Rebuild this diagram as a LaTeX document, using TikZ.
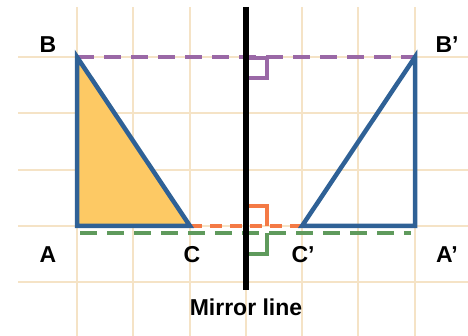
\documentclass[tikz,border=0pt]{standalone}
\usepackage{fontspec}
\setmainfont{Liberation Sans}
\definecolor{gridc}{HTML}{F5E3C6}
\definecolor{triblue}{HTML}{2F6196}
\definecolor{trifill}{HTML}{FDC964}
\definecolor{purp}{HTML}{9A68A6}
\definecolor{oran}{HTML}{F47A45}
\definecolor{gree}{HTML}{5F9A5C}
\begin{document}
\begin{tikzpicture}[x=1pt,y=-1pt,
  gridline/.style={draw=gridc,line width=2pt},
  tri/.style={draw=triblue,line width=4.5pt,line join=miter},
  dashline/.style={line width=3.5pt,dash pattern=on 17pt off 10pt},
  marker/.style={line width=3.5pt},
  lbl/.style={font=\bfseries\fontsize{23}{25}\selectfont,inner sep=0pt}]
\useasboundingbox (0,0) rectangle (468,336);
% grid
\foreach \x in {77,133,190,302,358,415} \draw[gridline] (\x,7) -- (\x,336);
\draw[gridline] (246,290) -- (246,336);
\foreach \y in {57,113,170,226,282} \draw[gridline] (18,\y) -- (468,\y);
% points
\coordinate (A) at (77,226);
\coordinate (B) at (77,57);
\coordinate (C) at (190,226);
\coordinate (A2) at (415,226);
\coordinate (B2) at (415,57);
\coordinate (C2) at (302,226);
\coordinate (Mt) at (246,7);
\coordinate (Mb) at (246,290);
\coordinate (G1) at (80,233);
\coordinate (G2) at (411,233);
% dashed lines
\draw[dashline,draw=purp] (B) -- (B2);
\draw[dashline,draw=oran,dash pattern=on 12pt off 8pt] (C) -- (C2);
\draw[dashline,draw=gree] (G1) -- (G2);
% right angle markers
\draw[marker,draw=purp] (246,58) -- (267,58) -- (267,78) -- (246,78);
\draw[marker,draw=oran] (246,206) -- (267,206) -- (267,226);
\draw[marker,draw=gree] (267,233) -- (267,254) -- (246,254);
% triangles
\draw[tri,fill=trifill] (A) -- (B) -- (C) -- cycle;
\draw[tri] (A2) -- (B2) -- (C2) -- cycle;
% mirror line
\draw[line width=5.5pt] (Mt) -- (Mb);
% labels
\node[lbl] (lA) at (48,255) {A};
\node[lbl] (lB) at (48,45) {B};
\node[lbl] (lC) at (192,255) {C};
\node[lbl] (lA2) at (447,255) {A’};
\node[lbl] (lB2) at (447,45) {B’};
\node[lbl] (lC2) at (303,255) {C’};
\node[lbl] (lM) at (246,307) {Mirror line};
\end{tikzpicture}
\end{document}
